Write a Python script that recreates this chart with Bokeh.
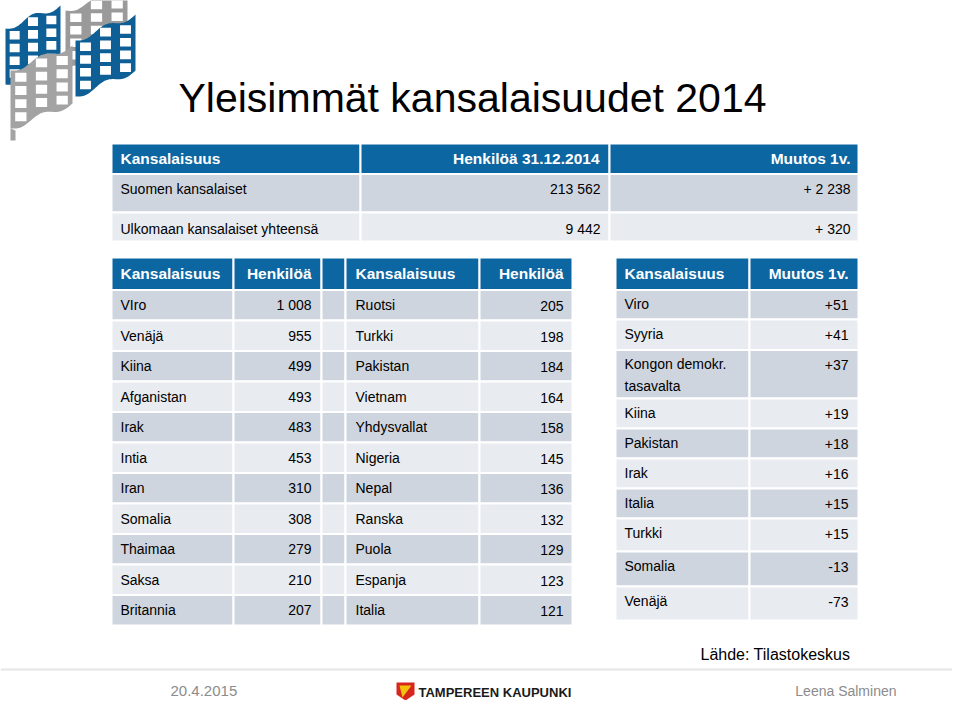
import numpy as np
from bokeh.plotting import figure
from bokeh.models import Range1d
from bokeh.embed import file_html
from bokeh.resources import INLINE
from bokeh.core.properties import value

# ---------------- data ----------------
title = "Yleisimmät kansalaisuudet 2014"

top_header = ["Kansalaisuus", "Henkilöä 31.12.2014", "Muutos 1v."]
top_labels = ["Suomen kansalaiset", "Ulkomaan kansalaiset yhteensä"]
top_counts = [213562, 9442]
top_changes = [2238, 320]

pop_header = ["Kansalaisuus", "Henkilöä"]
left_names = ["VIro", "Venäjä", "Kiina", "Afganistan", "Irak", "Intia", "Iran",
              "Somalia", "Thaimaa", "Saksa", "Britannia"]
left_counts = [1008, 955, 499, 493, 483, 453, 310, 308, 279, 210, 207]
mid_names = ["Ruotsi", "Turkki", "Pakistan", "Vietnam", "Yhdysvallat", "Nigeria",
             "Nepal", "Ranska", "Puola", "Espanja", "Italia"]
mid_counts = [205, 198, 184, 164, 158, 145, 136, 132, 129, 123, 121]

chg_header = ["Kansalaisuus", "Muutos 1v."]
chg_names = ["Viro", "Syyria", "Kongon demokr.\ntasavalta", "Kiina", "Pakistan",
             "Irak", "Italia", "Turkki", "Somalia", "Venäjä"]
chg_values = [51, 41, 37, 19, 18, 16, 15, 15, -13, -73]

source_note = "Lähde: Tilastokeskus"
footer_date = "20.4.2015"
footer_org = "TAMPEREEN KAUPUNKI"
footer_author = "Leena Salminen"

# ---------------- styles / layout ----------------
BLUE = "#0b66a2"
DARK = "#cfd5df"
LIGHT = "#e8ebf0"
FONT = value("Liberation Sans")


def fmt_int(n):
    return f"{n:,}".replace(",", " ")


def fmt_signed(n):
    return ("+" if n > 0 else "-") + str(abs(n))


p = figure(width=952, height=700, output_backend="svg", toolbar_location=None,
           x_range=Range1d(0, 952), y_range=Range1d(700, 0), min_border=0,
           background_fill_color="white", border_fill_color="white")
p.axis.visible = False
p.grid.visible = False
p.outline_line_color = None


def cells(lefts, rights, tops, bottoms, colors):
    p.quad(left=lefts, right=rights, top=tops, bottom=bottoms, fill_color=colors,
           line_color="white", line_width=2)


def txt(xs, ys, texts, align="left", size="14px", color="black", style="normal",
        baseline="middle", lh=1.2):
    p.text(x=xs, y=ys, text=texts, text_align=align, text_baseline=baseline,
           text_font=FONT, text_font_size=size, text_color=color,
           text_font_style=style, text_line_height=lh)


# ---------------- logo (decoration) ----------------
def flag(x0, w, tl, tr, h, color, pole=0):
    t = np.linspace(0, 1, 40)
    xs = x0 + w * t
    wave = 3.0 * np.sin(2 * np.pi * 1.5 * t)
    top = tl + (tr - tl) * t + wave
    bot = top + h
    px = list(xs) + list(xs[::-1])
    py = list(top) + list(bot[::-1])
    if pole:
        px = px + [x0 + 5, x0 + 5, x0]
        py = py + [bot[0] + 2, bot[0] + pole, bot[0] + pole]
    p.patch(px, py, fill_color=color, line_color=None)
    wx, wy = [], []
    for c in range(3):
        for r in range(4):
            tc = (c + 0.5) / 3
            cx = x0 + w * tc
            cy = tl + (tr - tl) * tc + 3.0 * np.sin(2 * np.pi * 1.5 * tc) + h * (r + 0.6) / 4.4
            wx.append(cx)
            wy.append(cy)
    p.rect(x=wx, y=wy, width=w / 5.5, height=h / 6.5, fill_color="white", line_color=None)


flag(5, 55, 28, 5, 56, "#0e5f96")
flag(65, 62, 10, -10, 55, "#9a9a9a")
flag(75, 60, 40, 14, 56, "#0e5f96")
flag(10, 62, 70, 45, 58, "#a3a3a3", pole=12)

# ---------------- title ----------------
txt([178], [97], [title], size="41px")

# ---------------- top table ----------------
tcol = [111, 360, 609, 858]
trow = [143, 173.5, 212, 241]
cells([tcol[0], tcol[1], tcol[2]], [tcol[1], tcol[2], tcol[3]],
      [trow[0]] * 3, [trow[1]] * 3, [BLUE] * 3)
for i in range(len(top_labels)):
    col = DARK if i % 2 == 0 else LIGHT
    cells(tcol[:3], tcol[1:], [trow[i + 1]] * 3, [trow[i + 2]] * 3, [col] * 3)
txt([120], [158], [top_header[0]], size="15.5px", color="white", style="bold")
txt([599, 850], [158, 158], top_header[1:], align="right", size="15.5px",
    color="white", style="bold")
ty = [188, 228]
txt([120] * 2, ty, top_labels)
txt([600] * 2, ty, [fmt_int(v) for v in top_counts], align="right")
txt([850] * 2, ty, ["+ " + fmt_int(v) for v in top_changes], align="right")

# ---------------- population table (two halves) ----------------
pcol = [111, 233, 321, 345, 479, 572]
rh = (625 - 289.5) / len(left_names)
prow = [257] + [289.5 + i * rh for i in range(len(left_names) + 1)]
cells(pcol[:5], pcol[1:], [prow[0]] * 5, [prow[1]] * 5, [BLUE] * 5)
for i in range(len(left_names)):
    col = DARK if i % 2 == 0 else LIGHT
    cells(pcol[:5], pcol[1:], [prow[i + 1]] * 5, [prow[i + 2]] * 5, [col] * 5)
txt([120, 355], [273, 273], [pop_header[0]] * 2, size="15.5px", color="white", style="bold")
txt([311, 563], [273, 273], [pop_header[1]] * 2, align="right", size="15.5px",
    color="white", style="bold")
ry = [(prow[i + 1] + prow[i + 2]) / 2 for i in range(len(left_names))]
txt([120] * len(ry), ry, left_names)
txt([311] * len(ry), ry, [fmt_int(v) for v in left_counts], align="right")
txt([355] * len(ry), ry, mid_names)
txt([563] * len(ry), [y + 1 for y in ry], [fmt_int(v) for v in mid_counts], align="right")

# ---------------- change table ----------------
ccol = [615, 749, 858]
crow = [257, 289.5, 319, 349.5, 398, 428, 458, 488, 518, 551, 586, 620]
cells(ccol[:2], ccol[1:], [crow[0]] * 2, [crow[1]] * 2, [BLUE] * 2)
for i in range(len(chg_names)):
    col = DARK if i % 2 == 0 else LIGHT
    cells(ccol[:2], ccol[1:], [crow[i + 1]] * 2, [crow[i + 2]] * 2, [col] * 2)
txt([624], [273], [chg_header[0]], size="15.5px", color="white", style="bold")
txt([848], [273], [chg_header[1]], align="right", size="15.5px", color="white", style="bold")
cy = [crow[i + 1] + 6 for i in range(len(chg_names))]
txt([624] * len(cy), cy, chg_names, baseline="top", lh=1.4)
txt([848] * len(cy), [y + 4 for y in cy], [fmt_signed(v) for v in chg_values],
    align="right", baseline="top")

# ---------------- footer ----------------
txt([700], [654], [source_note], size="16px")
p.segment(x0=[0], y0=[669], x1=[952], y1=[669], line_color="#e6e6e6", line_width=2)
txt([170], [690], [footer_date], size="15px", color="#8c8c8c")
txt([896], [690], [footer_author], align="right", size="14px", color="#8c8c8c")
txt([418], [692], [footer_org], size="13px", color="#1a1a1a", style="bold")
# small coat-of-arms shield (decoration)
p.patch([396, 414, 414, 405, 396], [682, 682, 694, 700, 694], fill_color="#d7261e", line_color=None)
p.patch([399, 411, 402], [685, 685, 697], fill_color="#f4c20d", line_color=None)

open("out.html", "w").write(file_html(p, INLINE))
